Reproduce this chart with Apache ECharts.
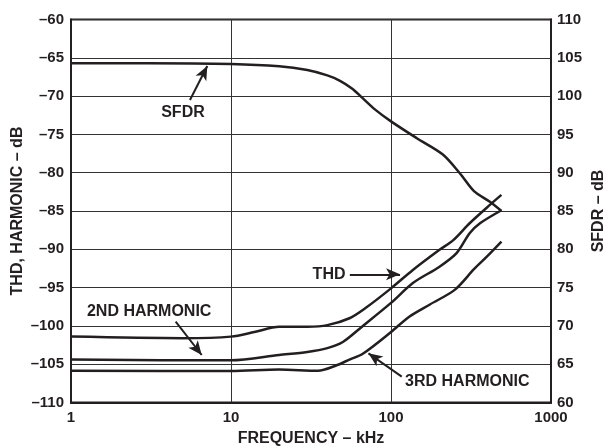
<!DOCTYPE html>
<html>
<head>
<meta charset="utf-8">
<script src="https://cdn.jsdelivr.net/npm/echarts@6/dist/echarts.min.js"></script>
<style>
  html, body { margin: 0; padding: 0; background: #fff; }
  #chart { width: 609px; height: 446px; }
</style>
</head>
<body>
<div id="chart"></div>
<script>
// values (frequency in kHz, dB)
var xTicks = [1, 10, 100, 1000];

var sfdrFreq = [1, 3, 10, 20, 30, 40, 48, 57, 66, 80, 100, 145, 210, 270, 330, 415, 490];
var sfdrVal  = [104.3, 104.3, 104.2, 103.9, 103.4, 102.7, 102.0, 101.0, 99.8, 98.2, 96.7, 94.5, 92.4, 89.9, 87.6, 86.2, 85.0];

var thdFreq = [1, 5, 10, 14, 20, 30, 40, 55, 70, 100, 137, 200, 245, 310, 415, 490];
var thdVal  = [-101.4, -101.6, -101.4, -100.8, -100.1, -100.1, -99.9, -99.0, -97.6, -95.1, -92.7, -90.1, -88.8, -86.6, -84.2, -82.9];

var h2Freq = [1, 10, 20, 30, 40, 50, 65, 100, 137, 200, 257, 310, 360, 490];
var h2Val  = [-104.4, -104.5, -103.8, -103.4, -102.9, -102.1, -100.2, -97.0, -94.4, -92.3, -90.5, -87.9, -86.6, -84.9];

var h3Freq = [1, 10, 20, 35, 45, 55, 67, 100, 130, 175, 250, 330, 400, 490];
var h3Val  = [-105.85, -105.9, -105.7, -105.85, -105.2, -104.4, -103.6, -100.8, -98.8, -97.2, -95.3, -92.6, -90.9, -89.0];

// annotation labels: [text, freq, dB(left axis)]
var labels = [
  ['SFDR', 5.01, -72.2],
  ['2ND HARMONIC', 3.08, -98.15],
  ['THD', 41, -93.26],
  ['3RD HARMONIC', 300, -107.3]
];
// arrows: [fromFreq, fromDb, toFreq, toDb]
var arrows = [
  [5.54, -70.5, 7.11, -66.07],
  [4.51, -99.45, 6.56, -103.8],
  [55.3, -93.26, 113.9, -93.26],
  [116.7, -106.63, 72.3, -103.58]
];

function pairs(xs, ys){
  var out = [];
  for (var i = 0; i < xs.length; i++) out.push([xs[i], ys[i]]);
  return out;
}

var ink = '#231f20';
var fontFam = '"Liberation Sans", Arial, sans-serif';

var chart = echarts.init(document.getElementById('chart'));

var lineBase = {
  type: 'line',
  smooth: 0.3,
  showSymbol: false,
  symbol: 'none',
  lineStyle: { color: ink, width: 2.5 },
  silent: true
};

var option = {
  animation: false,
  backgroundColor: '#fff',
  textStyle: { fontFamily: fontFam },
  grid: {
    left: 71, top: 19.5, right: 58, bottom: 43.5,
    outerBoundsMode: 'none',
    containLabel: false,
    show: true, borderColor: ink, borderWidth: 2, backgroundColor: 'transparent'
  },
  xAxis: {
    type: 'log',
    logBase: 10,
    min: 1, max: 1000,
    name: 'FREQUENCY – kHz',
    nameLocation: 'middle',
    nameGap: 28,
    nameTextStyle: { fontSize: 16, fontWeight: 'bold', color: ink, fontFamily: fontFam },
    axisLine: { lineStyle: { color: ink, width: 2 } },
    axisTick: { show: false },
    axisLabel: {
      fontSize: 15, fontWeight: 'bold', color: ink, margin: 8, fontFamily: fontFam,
      formatter: function(v){ return xTicks.indexOf(Math.round(v)) >= 0 ? String(Math.round(v)) : ''; }
    },
    splitLine: { show: true, lineStyle: { color: '#333', width: 1 } },
    minorTick: { show: false }
  },
  yAxis: [{
    type: 'value',
    min: -110, max: -60, interval: 5,
    name: 'THD, HARMONIC – dB',
    nameLocation: 'middle',
    nameGap: 45,
    nameMoveOverlap: false,
    nameTextStyle: { fontSize: 16, fontWeight: 'bold', color: ink, fontFamily: fontFam },
    axisLine: { show: true, lineStyle: { color: ink, width: 2 } },
    axisTick: { show: false },
    axisLabel: {
      fontSize: 15, fontWeight: 'bold', color: ink, margin: 7, fontFamily: fontFam,
      formatter: function(v){ return String(v).replace('-', '–'); }
    },
    splitLine: { show: true, lineStyle: { color: '#333', width: 1 } }
  }, {
    type: 'value',
    position: 'right',
    min: 60, max: 110, interval: 5,
    name: 'SFDR – dB',
    nameLocation: 'middle',
    nameGap: 40,
    nameMoveOverlap: false,
    nameTextStyle: { fontSize: 16, fontWeight: 'bold', color: ink, fontFamily: fontFam },
    axisLine: { show: true, lineStyle: { color: ink, width: 2 } },
    axisTick: { show: false },
    axisLabel: { fontSize: 15, fontWeight: 'bold', color: ink, margin: 6, fontFamily: fontFam },
    splitLine: { show: false }
  }],
  series: [
    Object.assign({}, lineBase, { name: 'SFDR', yAxisIndex: 1, data: pairs(sfdrFreq, sfdrVal) }),
    Object.assign({}, lineBase, {
      name: 'THD', yAxisIndex: 0, data: pairs(thdFreq, thdVal),
      markLine: {
        silent: true,
        symbol: ['none', 'arrow'],
        symbolSize: [9, 14],
        label: { show: false },
        lineStyle: { color: ink, width: 2, type: 'solid' },
        data: arrows.map(function(a){ return [{ coord: [a[0], a[1]] }, { coord: [a[2], a[3]] }]; })
      },
      markPoint: {
        silent: true,
        symbol: 'circle',
        symbolSize: 1,
        itemStyle: { color: 'transparent' },
        label: { show: true, position: 'inside', color: ink, fontSize: 16, fontWeight: 'bold', fontFamily: fontFam },
        data: labels.map(function(l){ return { coord: [l[1], l[2]], label: { formatter: l[0] } }; })
      }
    }),
    Object.assign({}, lineBase, { name: '2ND', yAxisIndex: 0, data: pairs(h2Freq, h2Val) }),
    Object.assign({}, lineBase, { name: '3RD', yAxisIndex: 0, data: pairs(h3Freq, h3Val) })
  ]
};

chart.setOption(option);
</script>
</body>
</html>
